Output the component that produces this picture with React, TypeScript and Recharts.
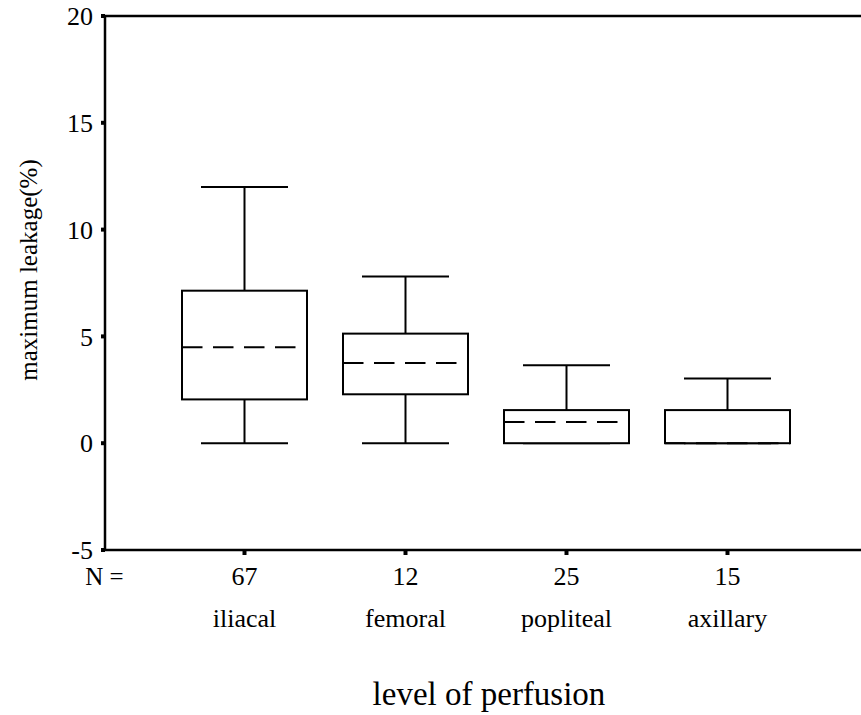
import { BarChart, Bar, XAxis, YAxis, ReferenceLine } from "recharts";

const FONT = "Liberation Serif, Times New Roman, serif";

const sites = ["iliacal", "femoral", "popliteal", "axillary"];
const counts = [67, 12, 25, 15];
const minVals = [0, 0, 0, 0];
const q1Vals = [2.05, 2.29, 0, 0];
const medianVals = [4.49, 3.76, 0.99, 0];
const q3Vals = [7.14, 5.13, 1.55, 1.55];
const maxVals = [12, 7.8, 3.65, 3.03];
const yTicks = [-5, 0, 5, 10, 15, 20];

const data = sites.map((name, i) => ({
  name,
  n: counts[i],
  min: minVals[i],
  q1: q1Vals[i],
  median: medianVals[i],
  q3: q3Vals[i],
  max: maxVals[i],
  box: [q1Vals[i], q3Vals[i]],
}));

// whiskers + box + dashed median, scaled off the bar's own q1..q3 extent
function BoxShape(props: any) {
  const { x = 0, y = 0, width = 0, height = 0, payload } = props;
  const top = Math.min(y, y + height);
  const h = Math.abs(height);
  const { min, q1, median, q3, max } = payload;
  const ppu = h / (q3 - q1);
  const cx = x + width / 2;
  const yMax = top - (max - q3) * ppu;
  const yMin = top + h + (q1 - min) * ppu;
  const yMed = top + (q3 - median) * ppu;
  const cap = 87;
  return (
    <g stroke="#000" strokeWidth={2} fill="none">
      <line x1={cx} x2={cx} y1={yMax} y2={top} />
      <line x1={cx - cap / 2} x2={cx + cap / 2} y1={yMax} y2={yMax} />
      <line x1={cx} x2={cx} y1={top + h} y2={yMin} />
      <line x1={cx - cap / 2} x2={cx + cap / 2} y1={yMin} y2={yMin} />
      <rect x={x} y={top} width={width} height={h} fill="#fff" />
      <line x1={x} x2={x + width} y1={yMed} y2={yMed} strokeDasharray="20.5 10.5" />
    </g>
  );
}

function SiteTick(props: any) {
  const { x, index, payload } = props;
  const axisY = 550;
  return (
    <g fontFamily={FONT} fill="#000">
      {index === 0 && (
        <text x={x - 140} y={axisY + 35} textAnchor="middle" fontSize={25}>
          N =
        </text>
      )}
      <text x={x} y={axisY + 35} textAnchor="middle" fontSize={26}>
        {counts[index]}
      </text>
      <text x={x} y={axisY + 77} textAnchor="middle" fontSize={26}>
        {payload.value}
      </text>
    </g>
  );
}

function XTitle(props: any) {
  const { viewBox } = props;
  const { x, y, width } = viewBox;
  return (
    <text x={x + width / 2 + 6} y={y + 155} textAnchor="middle" fontSize={33} fontFamily={FONT} fill="#000">
      level of perfusion
    </text>
  );
}

function YTitle(props: any) {
  const { viewBox } = props;
  const { x, y, height } = viewBox;
  const cx = x + 28;
  const cy = y + height / 2 - 13;
  return (
    <text
      x={cx}
      y={cy}
      transform={`rotate(-90, ${cx}, ${cy})`}
      textAnchor="middle"
      dominantBaseline="central"
      fontSize={25}
      fontFamily={FONT}
      fill="#000"
    >
      maximum leakage(%)
    </text>
  );
}

export default function App() {
  return (
    <div style={{ position: "absolute", left: 0, top: 0, width: 861, height: 715, background: "#fff" }}>
      <BarChart
        width={861}
        height={715}
        data={data}
        margin={{ top: 16, right: 0, bottom: 0, left: 0 }}
        barSize={125}
      >
        <ReferenceLine y={20} stroke="#000" strokeWidth={2.5} />
        <XAxis
          dataKey="name"
          height={165}
          padding={{ left: 59, right: 53 }}
          axisLine={{ stroke: "#000", strokeWidth: 2.5 }}
          tickLine={{ stroke: "#000", strokeWidth: 4 }}
          tickSize={5}
          tick={<SiteTick />}
          interval={0}
          label={<XTitle />}
        />
        <YAxis
          width={105}
          domain={[-5, 20]}
          ticks={yTicks}
          type="number"
          allowDataOverflow
          axisLine={{ stroke: "#000", strokeWidth: 2.5 }}
          tickLine={{ stroke: "#000", strokeWidth: 4 }}
          tickSize={4}
          tickMargin={8}
          tick={{ fill: "#000", fontSize: 26, fontFamily: FONT }}
          label={<YTitle />}
        />
        <Bar dataKey="box" shape={<BoxShape />} isAnimationActive={false} />
      </BarChart>
    </div>
  );
}
